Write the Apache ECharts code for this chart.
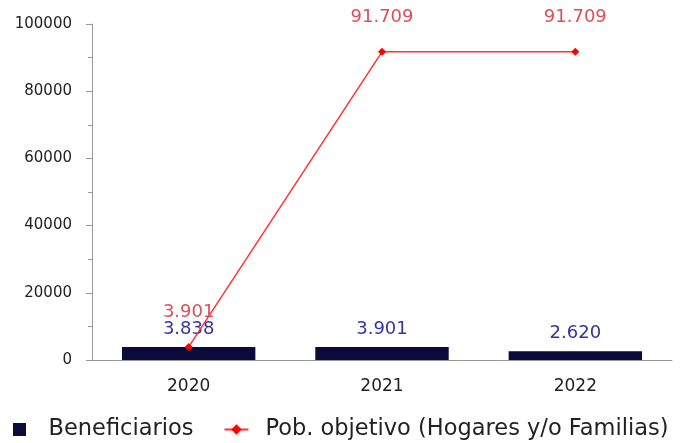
<!DOCTYPE html>
<html><head><meta charset="utf-8">
<script src="https://cdn.jsdelivr.net/npm/echarts@6/dist/echarts.min.js"></script>
<style>html,body{margin:0;padding:0;background:#fff}#c{width:689px;height:443px}</style>
</head><body><div id="c"></div>
<script>
const categories = ['2020', '2021', '2022'];
const beneficiarios = [3838, 3901, 2620];
const poblacionObjetivo = [3901, 91709, 91709];
const yTicks = [0, 20000, 40000, 60000, 80000, 100000];

function fmt(v) {
  return String(v).replace(/\B(?=(\d{3})+(?!\d))/g, '.');
}

const chart = echarts.init(document.getElementById('c'));
chart.setOption({
  animation: false,
  textStyle: { fontFamily: 'DejaVu Sans' },
  grid: { left: 92, right: 17, top: 24, bottom: 83 },
  legend: {
    left: 13, top: 418, padding: 0,
    itemGap: 30, itemWidth: 24, itemHeight: 13,
    textStyle: { fontSize: 22.5, color: '#222', fontFamily: 'DejaVu Sans', padding: [0, 0, 0, 12] },
    data: [
      { name: 'Beneficiarios', icon: 'path://M0,0h10v10h-10z' },
      { name: 'Pob. objetivo (Hogares y/o Familias)' }
    ]
  },
  xAxis: {
    type: 'category',
    data: categories,
    axisLine: { lineStyle: { color: '#999', width: 1 } },
    axisTick: { show: false },
    axisLabel: { color: '#222', fontSize: 17, margin: 18 }
  },
  yAxis: {
    type: 'value',
    min: yTicks[0], max: yTicks[yTicks.length - 1], interval: 20000,
    axisLine: { show: true, lineStyle: { color: '#999' } },
    axisTick: { show: true, length: 6, lineStyle: { color: '#999' } },
    minorTick: { show: true, splitNumber: 2, length: 4, lineStyle: { color: '#999' } },
    splitLine: { show: false },
    axisLabel: { color: '#222', fontSize: 15, margin: 20, formatter: v => String(v) }
  },
  series: [
    {
      name: 'Beneficiarios',
      type: 'bar',
      data: beneficiarios,
      barWidth: '69%',
      itemStyle: { color: '#0b0b3b' },
      label: {
        show: true, position: 'top', distance: 9,
        color: '#3434a4', fontSize: 18,
        formatter: p => fmt(p.value)
      }
    },
    {
      name: 'Pob. objetivo (Hogares y/o Familias)',
      type: 'line',
      data: poblacionObjetivo,
      symbol: 'diamond', symbolSize: 8,
      itemStyle: { color: '#ff0000' },
      lineStyle: { color: '#ff3333', width: 1.5 },
      label: {
        show: true, position: 'top', distance: 22,
        color: '#d9505a', fontSize: 18,
        formatter: p => fmt(p.value)
      },
      z: 3
    }
  ]
});
</script></body></html>
